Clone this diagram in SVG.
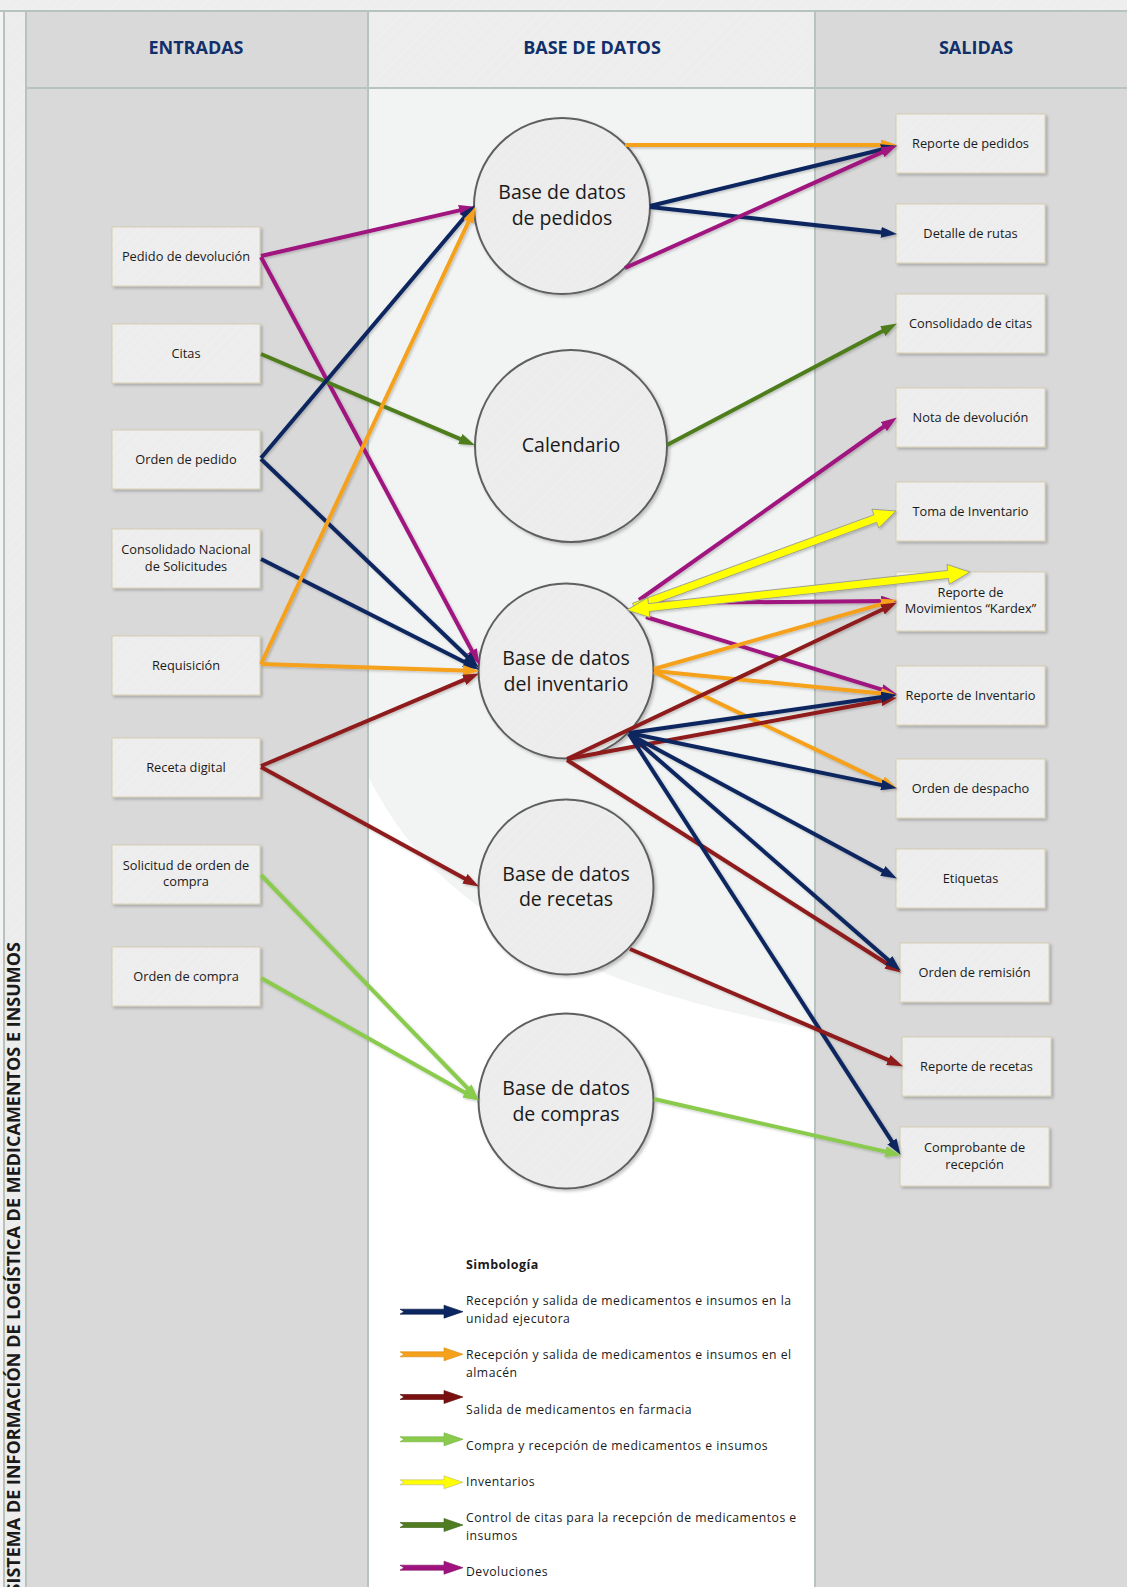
<svg xmlns="http://www.w3.org/2000/svg" width="1127" height="1587" viewBox="0 0 1127 1587">
<defs>
<style>
.t{font-family:"Open Sans","Noto Sans","Liberation Sans",sans-serif;fill:#1a1a1a}
.bt{font-size:12.8px;text-anchor:middle}
.ct{font-size:19.5px;text-anchor:middle}
.hd{font-size:18px;font-weight:bold;fill:#112f6b;text-anchor:middle}
.lg{font-size:12.2px;letter-spacing:0.5px}
.box{fill:#ededed;stroke:#d4cdb0;stroke-width:1;filter:url(#sh)}
.circ{fill:#ececec;stroke:#5f5f5f;stroke-width:2;filter:url(#sh)}
.hatch{fill:url(#hp);pointer-events:none}
.sep{stroke:#b6c3bf;stroke-width:2}
.c{fill:none;stroke-width:4}
.navy{stroke:#0b2660;marker-end:url(#mN)}
.orange{stroke:#f5a11c;marker-end:url(#mO)}
.red{stroke:#8e1a1a;marker-end:url(#mR)}
.lgreen{stroke:#8acb4e;marker-end:url(#mL)}
.olive{stroke:#4f7d1f;marker-end:url(#mV)}
.purple{stroke:#a0137f;marker-end:url(#mP)}
.yel{fill:#ffff00;stroke:#9ea38c;stroke-width:1}
</style>
<pattern id="hp" width="7" height="7" patternUnits="userSpaceOnUse" patternTransform="rotate(45)">
<line x1="0" y1="0" x2="0" y2="7" stroke="#ffffff" stroke-opacity="0.2" stroke-width="1.5"/>
</pattern>
<filter id="sh" x="-10%" y="-10%" width="130%" height="130%">
<feDropShadow dx="2" dy="2" stdDeviation="1.5" flood-color="#000" flood-opacity="0.22"/>
</filter>
<filter id="lsh" x="-5%" y="-5%" width="110%" height="110%">
<feDropShadow dx="1.5" dy="1.5" stdDeviation="1" flood-color="#000" flood-opacity="0.2"/>
</filter>
<marker id="mN" viewBox="0 0 16 11" refX="8" refY="5.5" markerWidth="16" markerHeight="11" markerUnits="userSpaceOnUse" orient="auto"><path d="M0,0 L16,5.5 L0,11 z" fill="#0b2660"/></marker>
<marker id="mO" viewBox="0 0 16 11" refX="8" refY="5.5" markerWidth="16" markerHeight="11" markerUnits="userSpaceOnUse" orient="auto"><path d="M0,0 L16,5.5 L0,11 z" fill="#f5a11c"/></marker>
<marker id="mR" viewBox="0 0 16 11" refX="8" refY="5.5" markerWidth="16" markerHeight="11" markerUnits="userSpaceOnUse" orient="auto"><path d="M0,0 L16,5.5 L0,11 z" fill="#8e1a1a"/></marker>
<marker id="mL" viewBox="0 0 16 11" refX="8" refY="5.5" markerWidth="16" markerHeight="11" markerUnits="userSpaceOnUse" orient="auto"><path d="M0,0 L16,5.5 L0,11 z" fill="#8acb4e"/></marker>
<marker id="mV" viewBox="0 0 16 11" refX="8" refY="5.5" markerWidth="16" markerHeight="11" markerUnits="userSpaceOnUse" orient="auto"><path d="M0,0 L16,5.5 L0,11 z" fill="#4f7d1f"/></marker>
<marker id="mP" viewBox="0 0 16 11" refX="8" refY="5.5" markerWidth="16" markerHeight="11" markerUnits="userSpaceOnUse" orient="auto"><path d="M0,0 L16,5.5 L0,11 z" fill="#a0137f"/></marker>
</defs>

<!-- background / lanes -->
<g id="lanes">
<rect x="0" y="0" width="1127" height="1587" fill="#f4f4f4"/>
<rect x="0" y="0" width="1127" height="11" fill="#eeeeee"/>
<rect x="4" y="11" width="22" height="1576" fill="#ececec"/>
<rect x="26" y="11" width="342" height="1576" fill="#d9d9d9"/>
<rect x="368" y="11" width="447" height="77" fill="#ededed"/>
<rect x="368" y="88" width="447" height="1499" fill="#f2f4f3"/>
<path d="M368,776 C420,880 520,975 815,1030 L815,1587 L368,1587 Z" fill="#ffffff"/>
<rect x="815" y="11" width="312" height="1576" fill="#d9d9d9"/>
<rect x="0" y="0" width="1127" height="11" class="hatch"/>
<rect x="368" y="11" width="447" height="77" class="hatch"/>
<rect x="4" y="11" width="22" height="1576" class="hatch"/>
<line x1="0" y1="11" x2="1127" y2="11" class="sep"/>
<line x1="4" y1="11" x2="4" y2="1587" class="sep"/>
<line x1="26" y1="11" x2="26" y2="1587" class="sep"/>
<line x1="26" y1="88" x2="1127" y2="88" class="sep"/>
<line x1="368" y1="11" x2="368" y2="1587" class="sep"/>
<line x1="815" y1="11" x2="815" y2="1587" class="sep"/>
<text class="t hd" x="196" y="54">ENTRADAS</text>
<text class="t hd" x="592" y="54">BASE DE DATOS</text>
<text class="t hd" x="976" y="54">SALIDAS</text>
<text class="t" transform="translate(20,942) rotate(-90)" text-anchor="end" font-size="18" font-weight="bold" fill="#1c1c1c">SISTEMA DE INFORMACIÓN DE LOGÍSTICA DE MEDICAMENTOS E INSUMOS</text>
</g>

<!-- input nodes -->
<g id="n-pedido-devolucion"><rect class="box" x="112" y="227" width="148" height="59"/><rect class="hatch" x="112" y="227" width="148" height="59"/><text class="t bt" x="186" y="261">Pedido de devolución</text></g>
<g id="n-citas"><rect class="box" x="112" y="324" width="148" height="59"/><rect class="hatch" x="112" y="324" width="148" height="59"/><text class="t bt" x="186" y="358">Citas</text></g>
<g id="n-orden-pedido"><rect class="box" x="112" y="430" width="148" height="59"/><rect class="hatch" x="112" y="430" width="148" height="59"/><text class="t bt" x="186" y="464">Orden de pedido</text></g>
<g id="n-consolidado-nacional"><rect class="box" x="112" y="529" width="148" height="59"/><rect class="hatch" x="112" y="529" width="148" height="59"/><text class="t bt" x="186" y="554">Consolidado Nacional</text><text class="t bt" x="186" y="570.5">de Solicitudes</text></g>
<g id="n-requisicion"><rect class="box" x="112" y="636" width="148" height="59"/><rect class="hatch" x="112" y="636" width="148" height="59"/><text class="t bt" x="186" y="670">Requisición</text></g>
<g id="n-receta-digital"><rect class="box" x="112" y="738" width="148" height="59"/><rect class="hatch" x="112" y="738" width="148" height="59"/><text class="t bt" x="186" y="772">Receta digital</text></g>
<g id="n-solicitud-orden-compra"><rect class="box" x="112" y="845" width="148" height="59"/><rect class="hatch" x="112" y="845" width="148" height="59"/><text class="t bt" x="186" y="869.5">Solicitud de orden de</text><text class="t bt" x="186" y="886">compra</text></g>
<g id="n-orden-compra"><rect class="box" x="112" y="947" width="148" height="59"/><rect class="hatch" x="112" y="947" width="148" height="59"/><text class="t bt" x="186" y="981">Orden de compra</text></g>

<!-- database nodes -->
<g id="db-pedidos"><circle class="circ" cx="562" cy="206" r="88"/><circle class="hatch" cx="562" cy="206" r="87"/><text class="t ct" x="562" y="199">Base de datos</text><text class="t ct" x="562" y="224.5">de pedidos</text></g>
<g id="db-calendario"><circle class="circ" cx="571" cy="446" r="96"/><circle class="hatch" cx="571" cy="446" r="95"/><text class="t ct" x="571" y="452">Calendario</text></g>
<g id="db-inventario"><circle class="circ" cx="566" cy="671" r="87.5"/><circle class="hatch" cx="566" cy="671" r="86.5"/><text class="t ct" x="566" y="665">Base de datos</text><text class="t ct" x="566" y="690.5">del inventario</text></g>
<g id="db-recetas"><circle class="circ" cx="566" cy="887" r="87.5"/><circle class="hatch" cx="566" cy="887" r="86.5"/><text class="t ct" x="566" y="881">Base de datos</text><text class="t ct" x="566" y="906">de recetas</text></g>
<g id="db-compras"><circle class="circ" cx="566" cy="1101" r="87.5"/><circle class="hatch" cx="566" cy="1101" r="86.5"/><text class="t ct" x="566" y="1095">Base de datos</text><text class="t ct" x="566" y="1120.5">de compras</text></g>

<!-- output nodes -->
<g id="o-reporte-pedidos"><rect class="box" x="896" y="114" width="149" height="59"/><rect class="hatch" x="896" y="114" width="149" height="59"/><text class="t bt" x="970.5" y="148">Reporte de pedidos</text></g>
<g id="o-detalle-rutas"><rect class="box" x="896" y="204" width="149" height="59"/><rect class="hatch" x="896" y="204" width="149" height="59"/><text class="t bt" x="970.5" y="238">Detalle de rutas</text></g>
<g id="o-consolidado-citas"><rect class="box" x="896" y="294" width="149" height="59"/><rect class="hatch" x="896" y="294" width="149" height="59"/><text class="t bt" x="970.5" y="328">Consolidado de citas</text></g>
<g id="o-nota-devolucion"><rect class="box" x="896" y="388" width="149" height="59"/><rect class="hatch" x="896" y="388" width="149" height="59"/><text class="t bt" x="970.5" y="422">Nota de devolución</text></g>
<g id="o-toma-inventario"><rect class="box" x="896" y="482" width="149" height="59"/><rect class="hatch" x="896" y="482" width="149" height="59"/><text class="t bt" x="970.5" y="516">Toma de Inventario</text></g>
<g id="o-kardex"><rect class="box" x="896" y="572" width="149" height="59"/><rect class="hatch" x="896" y="572" width="149" height="59"/><text class="t bt" x="970.5" y="597">Reporte de</text><text class="t bt" x="970.5" y="613">Movimientos “Kardex”</text></g>
<g id="o-reporte-inventario"><rect class="box" x="896" y="666" width="149" height="59"/><rect class="hatch" x="896" y="666" width="149" height="59"/><text class="t bt" x="970.5" y="700">Reporte de Inventario</text></g>
<g id="o-orden-despacho"><rect class="box" x="896" y="759" width="149" height="59"/><rect class="hatch" x="896" y="759" width="149" height="59"/><text class="t bt" x="970.5" y="793">Orden de despacho</text></g>
<g id="o-etiquetas"><rect class="box" x="896" y="849" width="149" height="59"/><rect class="hatch" x="896" y="849" width="149" height="59"/><text class="t bt" x="970.5" y="883">Etiquetas</text></g>
<g id="o-orden-remision"><rect class="box" x="900" y="943" width="149" height="59"/><rect class="hatch" x="900" y="943" width="149" height="59"/><text class="t bt" x="974.5" y="977">Orden de remisión</text></g>
<g id="o-reporte-recetas"><rect class="box" x="902" y="1037" width="149" height="59"/><rect class="hatch" x="902" y="1037" width="149" height="59"/><text class="t bt" x="976.5" y="1071">Reporte de recetas</text></g>
<g id="o-comprobante"><rect class="box" x="900" y="1127" width="149" height="59"/><rect class="hatch" x="900" y="1127" width="149" height="59"/><text class="t bt" x="974.5" y="1152">Comprobante de</text><text class="t bt" x="974.5" y="1169">recepción</text></g>

<!-- connectors -->
<g id="connectors" filter="url(#lsh)">
<line class="c purple" x1="261" y1="256" x2="467.2" y2="208.6"/>
<line class="c purple" x1="261" y1="257" x2="475.7" y2="657.8"/>
<line class="c olive" x1="261" y1="354" x2="467.6" y2="442.2"/>
<line class="c navy" x1="261" y1="458" x2="469.5" y2="211.3"/>
<line class="c navy" x1="261" y1="459" x2="473" y2="662.2"/>
<line class="c navy" x1="261" y1="559" x2="471.8" y2="665.8"/>
<line class="c orange" x1="261" y1="664" x2="472" y2="214.3"/>
<line class="c orange" x1="261" y1="664" x2="471" y2="670.8"/>
<line class="c red" x1="261" y1="766" x2="471.6" y2="676.7"/>
<line class="c red" x1="261" y1="767" x2="471.9" y2="882.6"/>
<line class="c lgreen" x1="261" y1="875" x2="473.1" y2="1094"/>
<line class="c lgreen" x1="261" y1="978" x2="471.9" y2="1096.6"/>
<line class="c orange" x1="625" y1="145" x2="889" y2="145"/>
<line class="c navy" x1="650" y1="206" x2="889.2" y2="147.7"/>
<line class="c navy" x1="650" y1="207" x2="889" y2="233.2"/>
<line class="c purple" x1="625" y1="268" x2="889.6" y2="148.9"/>
<line class="c olive" x1="667" y1="445" x2="889.8" y2="327.3"/>
<line class="c purple" x1="639" y1="600" x2="890.3" y2="422"/>
<line class="c purple" x1="643" y1="603" x2="889" y2="601.1"/>
<line class="c purple" x1="646" y1="617" x2="889.3" y2="691.9"/>
<line class="c orange" x1="654" y1="669" x2="889.3" y2="601.9"/>
<line class="c orange" x1="654" y1="671" x2="889" y2="694.3"/>
<line class="c orange" x1="654" y1="672" x2="889.7" y2="785"/>
<line class="c red" x1="567" y1="759" x2="889.7" y2="606"/>
<line class="c red" x1="567" y1="759" x2="889.1" y2="699.3"/>
<line class="c red" x1="567" y1="760" x2="894.1" y2="968.2"/>
<line class="c navy" x1="629" y1="733" x2="889.1" y2="696"/>
<line class="c navy" x1="629" y1="733" x2="889.1" y2="786.6"/>
<line class="c navy" x1="629" y1="734" x2="889.8" y2="874.7"/>
<line class="c navy" x1="629" y1="734" x2="894.7" y2="965.4"/>
<line class="c navy" x1="629" y1="734" x2="896.2" y2="1148.1"/>
<line class="c red" x1="630" y1="949" x2="895.6" y2="1063.2"/>
<line class="c lgreen" x1="654" y1="1099" x2="893.2" y2="1153.4"/>
<polygon class="yel" points="635.38,610.76 876.72,522.33 878.78,527.96 896,511 871.9,509.18 873.96,514.81 632.62,603.24"/>
<polygon class="yel" points="627,610 649.97,617.52 649.31,611.56 948.57,578.4 949.23,584.36 970,572 947.03,564.48 947.69,570.44 648.43,603.6 647.77,597.64"/>
</g>

<!-- legend -->
<g id="legend">
<text class="t" x="466" y="1268.5" font-weight="bold" font-size="12.5" letter-spacing="0.4">Simbología</text>
<polygon points="400,1309.2 444,1309.2 444,1305.2 463,1311.7 444,1318.2 444,1314.2 400,1314.2 404,1311.7" fill="#0b2660" stroke="#071a45" stroke-width="0.6"/>
<text class="t lg" x="466" y="1304.5">Recepción y salida de medicamentos e insumos en la</text>
<text class="t lg" x="466" y="1323">unidad ejecutora</text>
<polygon points="400,1351.8 444,1351.8 444,1347.8 463,1354.3 444,1360.8 444,1356.8 400,1356.8 404,1354.3" fill="#f5a11c" stroke="#d48a12" stroke-width="0.6"/>
<text class="t lg" x="466" y="1358.5">Recepción y salida de medicamentos e insumos en el</text>
<text class="t lg" x="466" y="1376.5">almacén</text>
<polygon points="400,1394.5 444,1394.5 444,1390.5 463,1397 444,1403.5 444,1399.5 400,1399.5 404,1397" fill="#7a0f0f" stroke="#5a0a0a" stroke-width="0.6"/>
<text class="t lg" x="466" y="1413.5">Salida de medicamentos en farmacia</text>
<polygon points="400,1436.8 444,1436.8 444,1432.8 463,1439.3 444,1445.8 444,1441.8 400,1441.8 404,1439.3" fill="#8acb4e" stroke="#6fae38" stroke-width="0.6"/>
<text class="t lg" x="466" y="1450">Compra y recepción de medicamentos e insumos</text>
<polygon points="400,1479.8 444,1479.8 444,1475.8 463,1482.3 444,1488.8 444,1484.8 400,1484.8 404,1482.3" fill="#ffff00" stroke="#b5b58a" stroke-width="0.6"/>
<text class="t lg" x="466" y="1486">Inventarios</text>
<polygon points="400,1522.5 444,1522.5 444,1518.5 463,1525 444,1531.5 444,1527.5 400,1527.5 404,1525" fill="#4f7d1f" stroke="#3b5e16" stroke-width="0.6"/>
<text class="t lg" x="466" y="1521.5">Control de citas para la recepción de medicamentos e</text>
<text class="t lg" x="466" y="1539.5">insumos</text>
<polygon points="400,1565.2 444,1565.2 444,1561.2 463,1567.7 444,1574.2 444,1570.2 400,1570.2 404,1567.7" fill="#a0137f" stroke="#7a0e60" stroke-width="0.6"/>
<text class="t lg" x="466" y="1576">Devoluciones</text>
</g>
</svg>
